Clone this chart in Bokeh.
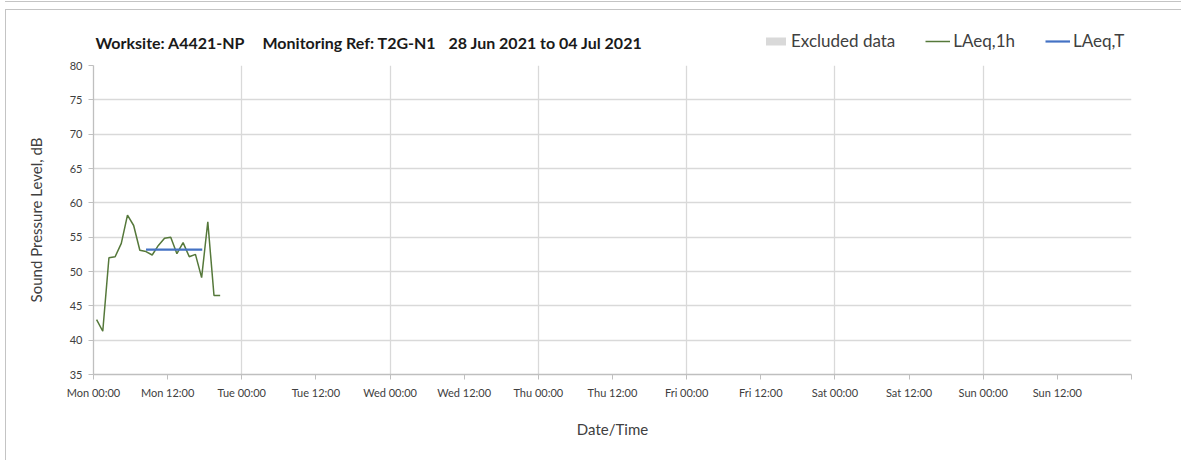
import pandas as pd
from bokeh.plotting import figure
from bokeh.layouts import column
from bokeh.models import FixedTicker, Legend, LegendItem, Label, Range1d
from bokeh.embed import file_html
from bokeh.resources import INLINE

# ---------------- data ----------------
week_start = "2021-06-28 00:00"
week_end = "2021-07-05 00:00"

laeq_1h_times = [
    "2021-06-28 00:30", "2021-06-28 01:30", "2021-06-28 02:30", "2021-06-28 03:30",
    "2021-06-28 04:30", "2021-06-28 05:30", "2021-06-28 06:30", "2021-06-28 07:30",
    "2021-06-28 08:30", "2021-06-28 09:30", "2021-06-28 10:30", "2021-06-28 11:30",
    "2021-06-28 12:30", "2021-06-28 13:30", "2021-06-28 14:30", "2021-06-28 15:30",
    "2021-06-28 16:30", "2021-06-28 17:30", "2021-06-28 18:30", "2021-06-28 19:30",
    "2021-06-28 20:30",
]
laeq_1h_values = [43.0, 41.3, 52.0, 52.15, 54.1, 58.2, 56.7, 53.1, 52.9, 52.4, 53.8,
                  54.85, 55.0, 52.6, 54.2, 52.15, 52.5, 49.1, 57.25, 46.5, 46.5]

laeq_t_times = ["2021-06-28 08:30", "2021-06-28 17:36"]
laeq_t_values = [53.2, 53.2]

excluded_start = []
excluded_end = []

tick_times = [
    "2021-06-28 00:00", "2021-06-28 12:00", "2021-06-29 00:00", "2021-06-29 12:00",
    "2021-06-30 00:00", "2021-06-30 12:00", "2021-07-01 00:00", "2021-07-01 12:00",
    "2021-07-02 00:00", "2021-07-02 12:00", "2021-07-03 00:00", "2021-07-03 12:00",
    "2021-07-04 00:00", "2021-07-04 12:00", "2021-07-05 00:00",
]
tick_labels = ["Mon 00:00", "Mon 12:00", "Tue 00:00", "Tue 12:00", "Wed 00:00",
               "Wed 12:00", "Thu 00:00", "Thu 12:00", "Fri 00:00", "Fri 12:00",
               "Sat 00:00", "Sat 12:00", "Sun 00:00", "Sun 12:00", ""]
y_ticks = [35, 40, 45, 50, 55, 60, 65, 70, 75, 80]

title_parts = ["Worksite: A4421-NP", "Monitoring Ref: T2G-N1", "28 Jun 2021 to 04 Jul 2021"]
legend_labels = ["Excluded data", "LAeq,1h", "LAeq,T"]

# ---------------- styles ----------------
FONT = "Lato"
W = 1181
HEAD_H = 55
MAIN_H = 460 - HEAD_H
FRAME_LEFT = 93
EXCL_COLOR = "#d9d9d9"
GREEN = "#55783a"
BLUE = "#4472c4"
BOX = "#c4c4c4"

# ---------------- helpers ----------------
t0 = pd.Timestamp(week_start)


def hours(ts):
    return [(pd.Timestamp(t) - t0) / pd.Timedelta(hours=1) for t in ts]


x_1h = hours(laeq_1h_times)
x_t = hours(laeq_t_times)
x_ticks = hours(tick_times)
x_end = hours([week_end])[0]
x_grid = [x for x, t in zip(x_ticks, tick_times) if t.endswith("00:00")]

# ---------------- header (title + legend) ----------------
# the header's ranges lie far from the data so that only the legend swatches show
head = figure(width=W, height=HEAD_H, output_backend="svg", toolbar_location=None,
              x_range=Range1d(10000, 10000 + W), y_range=Range1d(10000, 10000 + HEAD_H),
              x_axis_location=None, y_axis_location=None,
              min_border=0, min_border_left=0, min_border_right=0,
              min_border_top=0, min_border_bottom=0)
head.grid.visible = False
head.outline_line_color = None
head.border_fill_color = None
head.background_fill_color = None

# (the column aligns the header's frame with the chart frame at x = FRAME_LEFT)
for xpos, txt in zip([95, 262, 448], title_parts):
    head.add_layout(Label(x=xpos - FRAME_LEFT, y=13, x_units="screen", y_units="screen",
                          text=txt, text_font=FONT, text_font_size="16px",
                          text_font_style="bold", text_color="#1a1a1a",
                          text_baseline="middle", text_align="left"))

# legend swatch placeholder for the (empty) excluded-data series, out of view
h_ex = head.quad(left=[0], right=[1], bottom=[0], top=[1],
                 fill_color=EXCL_COLOR, line_color=None)
h_1h = head.line(x_1h, laeq_1h_values, line_color=GREEN, line_width=1.5)
h_t = head.line(x_t, laeq_t_values, line_color=BLUE, line_width=2.2)

legend = Legend(items=[LegendItem(label=legend_labels[0], renderers=[h_ex]),
                       LegendItem(label=legend_labels[1], renderers=[h_1h]),
                       LegendItem(label=legend_labels[2], renderers=[h_t])],
                orientation="horizontal", location=(763 - FRAME_LEFT, 4))
legend.border_line_color = None
legend.background_fill_alpha = 0
legend.padding = 0
legend.margin = 0
legend.spacing = 30
legend.glyph_width = 25
legend.glyph_height = 10
legend.label_standoff = 3
legend.label_text_font = FONT
legend.label_text_font_size = "17px"
legend.label_text_color = "#404040"
legend.label_height = 18
head.add_layout(legend, "center")

# ---------------- main chart ----------------
p = figure(width=W, height=MAIN_H, output_backend="svg", toolbar_location=None,
           x_range=Range1d(0, x_end), y_range=Range1d(35, 80),
           min_border_left=FRAME_LEFT, min_border_right=50, min_border_top=65 - HEAD_H,
           min_border_bottom=86)
p.outline_line_color = None
p.background_fill_color = "white"
p.border_fill_color = None

p.quad(left=excluded_start, right=excluded_end, bottom=[35] * len(excluded_start),
       top=[80] * len(excluded_start), fill_color=EXCL_COLOR, line_color=None)
p.line(x_1h, laeq_1h_values, line_color=GREEN, line_width=1.5)
p.line(x_t, laeq_t_values, line_color=BLUE, line_width=2.2)

p.xaxis.ticker = FixedTicker(ticks=x_ticks)
p.xaxis.major_label_overrides = {x: lab for x, lab in zip(x_ticks, tick_labels)}
p.yaxis.ticker = FixedTicker(ticks=y_ticks)
p.xgrid.ticker = FixedTicker(ticks=x_grid)
p.ygrid.ticker = FixedTicker(ticks=y_ticks)
p.xgrid.grid_line_color = "#d9d9d9"
p.ygrid.grid_line_color = "#d9d9d9"
p.xgrid.grid_line_width = 1.3
p.ygrid.grid_line_width = 1.3

for ax in (p.xaxis[0], p.yaxis[0]):
    ax.axis_line_color = "#bfbfbf"
    ax.axis_line_width = 1.3
    ax.major_tick_line_color = "#bfbfbf"
    ax.major_tick_in = 0
    ax.major_tick_out = 5
    ax.minor_tick_line_color = None
    ax.major_label_text_font = FONT
    ax.major_label_text_font_size = "11px"
    ax.major_label_text_color = "#404040"
    ax.axis_label_text_font = FONT
    ax.axis_label_text_font_size = "15px"
    ax.axis_label_text_font_style = "normal"
    ax.axis_label_text_color = "#404040"

p.xaxis.axis_label = "Date/Time"
p.xaxis.major_label_standoff = 6
p.xaxis.axis_label_standoff = 18
p.yaxis.axis_label = "Sound Pressure Level, dB"
p.yaxis.major_label_standoff = 6
p.yaxis.axis_label_standoff = 22

# light frame lines around the chart area, as in the original image
box_bg = (
    f"linear-gradient({BOX},{BOX}) 5px 1px / 1176px 1px no-repeat, "
    f"linear-gradient({BOX},{BOX}) 5px 9px / 1176px 1px no-repeat, "
    f"linear-gradient({BOX},{BOX}) 5px 9px / 1px 451px no-repeat, "
    "white"
)
layout = column(head, p, spacing=0, styles={"background": box_bg})
open("out.html", "w").write(file_html(layout, INLINE))
